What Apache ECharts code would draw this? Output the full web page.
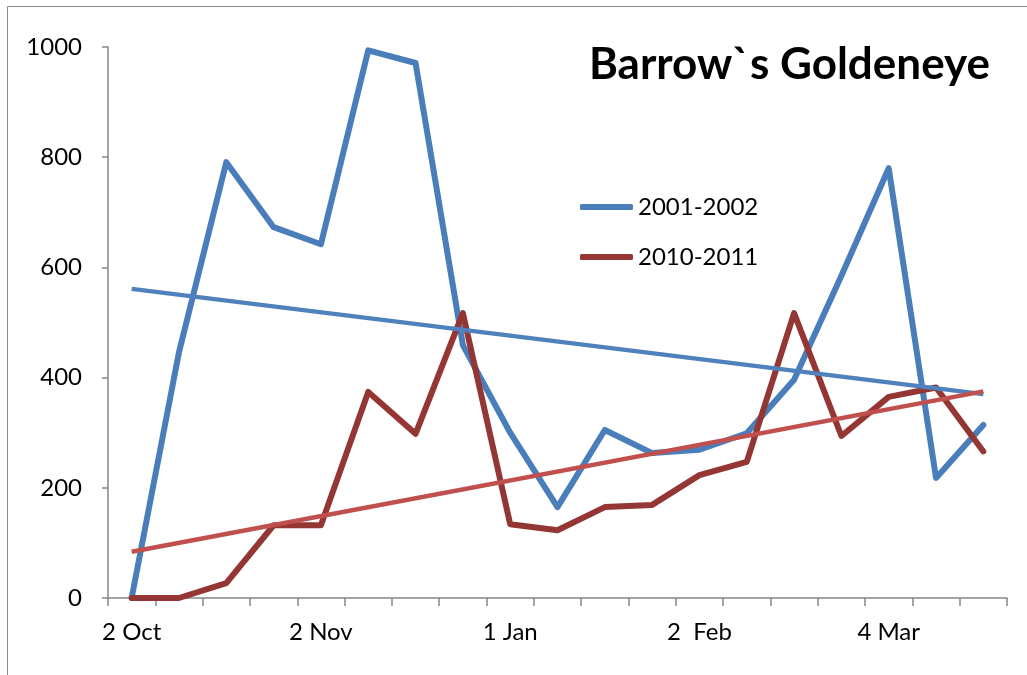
<!DOCTYPE html>
<html>
<head>
<meta charset="utf-8">
<script src="https://cdn.jsdelivr.net/npm/echarts@6/dist/echarts.min.js"></script>
<style>
html,body{margin:0;padding:0;background:#fff;}
#chart{width:1027px;height:675px;}
</style>
</head>
<body>
<div id="chart"></div>
<script>
// Categories (survey dates, only every 4th one is labelled)
const categories = ["2 Oct","","","","2 Nov","","","","1 Jan","","","","2  Feb","","","","4 Mar","",""];
const yTicks = [0, 200, 400, 600, 800, 1000];
const seriesNames = ["2001-2002", "2010-2011"];
const values2001 = [0, 446, 791, 673, 642, 994, 971, 459, 300, 165, 305, 263, 269, 299, 396, 585, 780, 218, 314];
const values2010 = [0, 0, 27, 132, 132, 374, 298, 517, 134, 123, 165, 169, 223, 247, 517, 294, 365, 382, 266];
// Linear trend lines: [start value, end value]
const trend2001 = [561, 370];
const trend2010 = [84, 375];

const chart = echarts.init(document.getElementById('chart'), null, {renderer: 'canvas'});
const last = categories.length - 1;
const font = 'Lato, "Liberation Sans", sans-serif';

chart.setOption({
  backgroundColor: '#ffffff',
  animation: false,
  graphic: [{
    type: 'rect',
    shape: {x: 7.5, y: 6.5, width: 1200, height: 1200},
    style: {fill: 'none', stroke: '#8a8a8a', lineWidth: 1},
    silent: true
  }],
  title: {
    text: 'Barrow`s Goldeneye',
    right: 32,
    top: 38,
    textStyle: {fontFamily: font, fontWeight: 'bold', fontSize: 44, color: '#000'}
  },
  legend: {
    orient: 'vertical',
    left: 575,
    top: 190,
    icon: 'roundRect',
    itemWidth: 53,
    itemHeight: 6,
    itemGap: 26,
    data: seriesNames,
    textStyle: {fontFamily: font, fontSize: 24, color: '#000'}
  },
  grid: {left: 108, right: 20, top: 47, bottom: 77, containLabel: false},
  xAxis: {
    type: 'category',
    data: categories,
    boundaryGap: true,
    axisLine: {lineStyle: {color: '#868686', width: 1.5}},
    axisTick: {show: true, interval: 0, length: 8, lineStyle: {color: '#868686', width: 1.5}},
    axisLabel: {interval: 0, margin: 22, fontFamily: font, fontSize: 24, color: '#000'},
    splitLine: {show: false}
  },
  yAxis: {
    type: 'value',
    min: yTicks[0],
    max: yTicks[yTicks.length - 1],
    interval: yTicks[1] - yTicks[0],
    axisLine: {show: true, lineStyle: {color: '#868686', width: 1.5}},
    axisTick: {show: true, length: 6, lineStyle: {color: '#868686', width: 1.5}},
    axisLabel: {margin: 26, fontFamily: font, fontSize: 24, color: '#000', formatter: function (v) { return String(v); }},
    splitLine: {show: false}
  },
  series: [
    {
      name: seriesNames[0], type: 'line', data: values2001,
      symbol: 'none', color: '#4a7ebb',
      lineStyle: {width: 6, color: '#4a7ebb', cap: 'round', join: 'round'}
    },
    {
      name: seriesNames[1], type: 'line', data: values2010,
      symbol: 'none', color: '#943634',
      lineStyle: {width: 6, color: '#943634', cap: 'round', join: 'round'}
    },
    {
      name: 'trend2001', type: 'line', data: [[0, trend2001[0]], [last, trend2001[1]]],
      symbol: 'none', color: '#4f81bd',
      lineStyle: {width: 4.5, color: '#4f81bd'}
    },
    {
      name: 'trend2010', type: 'line', data: [[0, trend2010[0]], [last, trend2010[1]]],
      symbol: 'none', color: '#c0504d',
      lineStyle: {width: 4.5, color: '#c0504d'}
    }
  ]
});
</script>
</body>
</html>
